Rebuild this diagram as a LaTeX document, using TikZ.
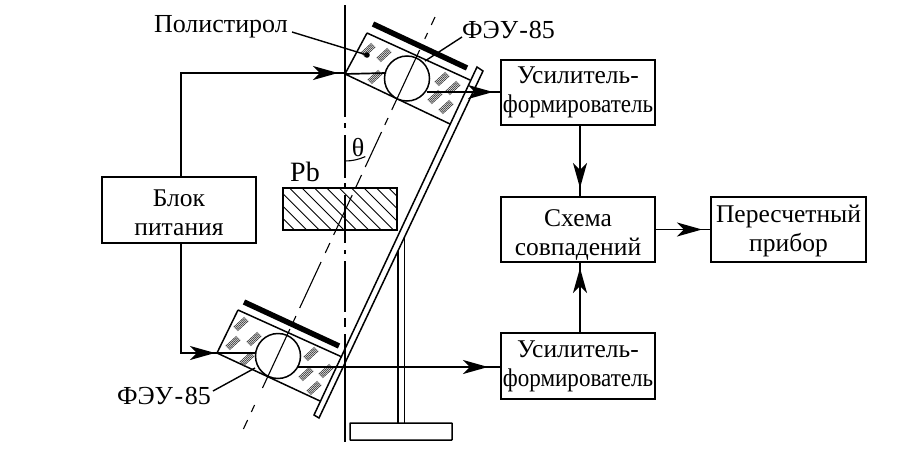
\documentclass[tikz,border=0pt]{standalone}
\usepackage{graphicx}
\usepackage{fontspec}
\setmainfont{Liberation Serif}
\usetikzlibrary{arrows.meta,calc}
\tikzset{
  blk/.style={draw,line width=2pt,minimum width=#1,minimum height=65pt,inner sep=0pt,align=center,font=\fontsize{25.5}{29}\selectfont},
  lbl/.style={inner sep=0pt,font=\fontsize{26}{30}\selectfont},
  wire/.style={line width=1.7pt},
  ray/.style={line width=1.7pt,-{Stealth[length=25pt,width=14pt,inset=7pt]}},
  thin line/.style={line width=1.5pt},
  axis line/.style={line width=1.3pt},
  hatchln/.style={line width=.6pt,black!80},
}
\newcommand{\hatchgrp}[2]{%
  \foreach \k in {-2,-1,0,1,2}{
    \draw[hatchln] (#1-5.4+\k*.95,#2+5+\k*.95) -- (#1+5.4+\k*.95,#2-5+\k*.95);
  }}
\newcommand{\formtext}{\scalebox{.905}[1]{формирователь}}
\begin{document}
\begin{tikzpicture}[x=1pt,y=-1pt]
\useasboundingbox (0,0) rectangle (922,469);
% blocks
\node[blk=154pt,minimum height=66pt] (bp) at (179,210) {\rule{0pt}{22pt}Блок\\питания};
\node[blk=154pt] (u1) at (578,92.5) {Усилитель-\\\formtext};
\node[blk=154pt] (cc) at (578,229.5) {\rule{0pt}{27pt}Схема\\совпадений};
\node[blk=155pt] (pp) at (788.5,229.5) {\rule{0pt}{21pt}Пересчетный\\прибор};
\node[blk=154pt,minimum height=66pt] (u2) at (578,366) {Усилитель-\\\formtext};
% Pb
\node[draw,line width=1.6pt,minimum width=114pt,minimum height=42pt,inner sep=0pt] (pb) at (340,209) {};
\begin{scope}
\clip (283,188) rectangle (397,230);
\foreach \i in {0,...,13}{
  \draw[line width=.9pt] (240+\i*12.4,188) -- ++(45,45);
}
\end{scope}
\draw[line width=1.6pt] (283,188) rectangle (397,230);
\node[lbl,font=\fontsize{28}{30}\selectfont] (pbt) at (305,172) {Pb};
% plate
\coordinate (p1) at (477,67);
\coordinate (p2) at (483,71);
\coordinate (p3) at (319,418);
\coordinate (p4) at (314,415);
\draw[thin line,fill=white] (p1) -- (p2) -- (p3) -- (p4) -- cycle;
% stand
\draw[thin line] (398,251) -- (398,423);
\draw[thin line] (404.5,237) -- (404.5,423);
\draw[thin line,rounded corners=.5pt] (350,423) rectangle (452,440);
% top detector
\coordinate (t1) at (367,33);
\coordinate (t2) at (470,80);
\coordinate (t3) at (450,124);
\coordinate (t4) at (345,74);
\draw[thin line] (t1) -- (t2) (t3) -- (t4) -- (t1);
\node[draw,circle,line width=1.5pt,fill=white,minimum size=45pt,inner sep=0pt] (c1) at (407,78.5) {};
\draw[line width=5.5pt] (373,24) -- (467,68);
% bottom detector
\coordinate (b1) at (238,310);
\coordinate (b2) at (342,357);
\coordinate (b3) at (320,401);
\coordinate (b4) at (217,353);
\draw[thin line] (b1) -- (b2) (b3) -- (b4) -- (b1);
\node[draw,circle,line width=1.5pt,fill=white,minimum size=45pt,inner sep=0pt] (c2) at (278,356) {};
\draw[line width=5.5pt] (244,302) -- (339,346);
% hatches
\hatchgrp{368}{50}\hatchgrp{384}{55}\hatchgrp{375}{77}\hatchgrp{442}{79}\hatchgrp{453}{88}\hatchgrp{435}{97}\hatchgrp{446}{107}
\hatchgrp{241}{324}\hatchgrp{233}{343}\hatchgrp{254}{339}\hatchgrp{247}{359}\hatchgrp{311}{354}\hatchgrp{306}{374}\hatchgrp{326}{371}\hatchgrp{314}{388}
% vertical chain line
\foreach \a/\b in {5/117,123/128,135/178,183/187,195/243,250/254,261/312,318/327,334/442}{
  \draw[axis line] (345,\a) -- (345,\b);
}
% tilted axis
\foreach \a/\b in {17/25,33/39,50/110,118/125,132/167,175/187,195/235,243/253,262/308,316/322,329/388,405/412,420/429}{
  \draw[line width=1.1pt] ({435-(\a-17)*.465},\a) -- ({435-(\b-17)*.465},\b);
}
% theta
\draw[line width=1.1pt] (345,161) arc[start angle=90,end angle=65.5,radius=49];
\node[lbl] (th) at (358,148) {θ};
% wires
\coordinate (wt) at (181,73);
\coordinate (wb) at (181,353);
\draw[wire] (bp.north -| wt) -- (wt) -- (t4 |- wt);
\draw[ray] (312,73) -- (338,73);
\draw[wire] (bp.south -| wb) -- (wb) -- (b4);
\draw[ray] (192,353) -- (215,353);
\draw[wire] (t4) -- (386,73);
\draw[wire] (b4) -- (256,353);
\draw[wire] (427,92) -- (u1.west |- 427,92);
\draw[ray] (470,92) -- (493,92);
\draw[wire] (298,367) -- (u2.west |- 298,367);
\draw[ray] (464,367) -- (488,367);
\coordinate (vx) at (580,0);
\draw[wire] (u1.south -| vx) -- (cc.north -| vx);
\draw[ray] (580,165) -- (580,188);
\draw[wire] (u2.north -| vx) -- (cc.south -| vx);
\draw[ray] (580,290) -- (580,268);
\draw[wire] (cc.east) -- (pp.west);
\draw[ray] (677,229.5) -- (702,229.5);
% leaders
\node[lbl,anchor=east] (pol) at (288,27) {Полистирол};
\node[lbl,anchor=west] (f1) at (462,30) {ФЭУ\hspace{1pt}-\hspace{1pt}85};
\node[lbl,anchor=east] (f2) at (211,396) {ФЭУ\hspace{1.5pt}-\hspace{1.5pt}85};
\coordinate (dot) at (367,55);
\draw[line width=1.4pt] (292,32) -- (dot);
\fill (dot) circle (2.8);
\draw[line width=1.4pt] (462,37) -- (425,61);
\draw[line width=1.4pt] (213,391) -- (255,368);
\end{tikzpicture}
\end{document}
